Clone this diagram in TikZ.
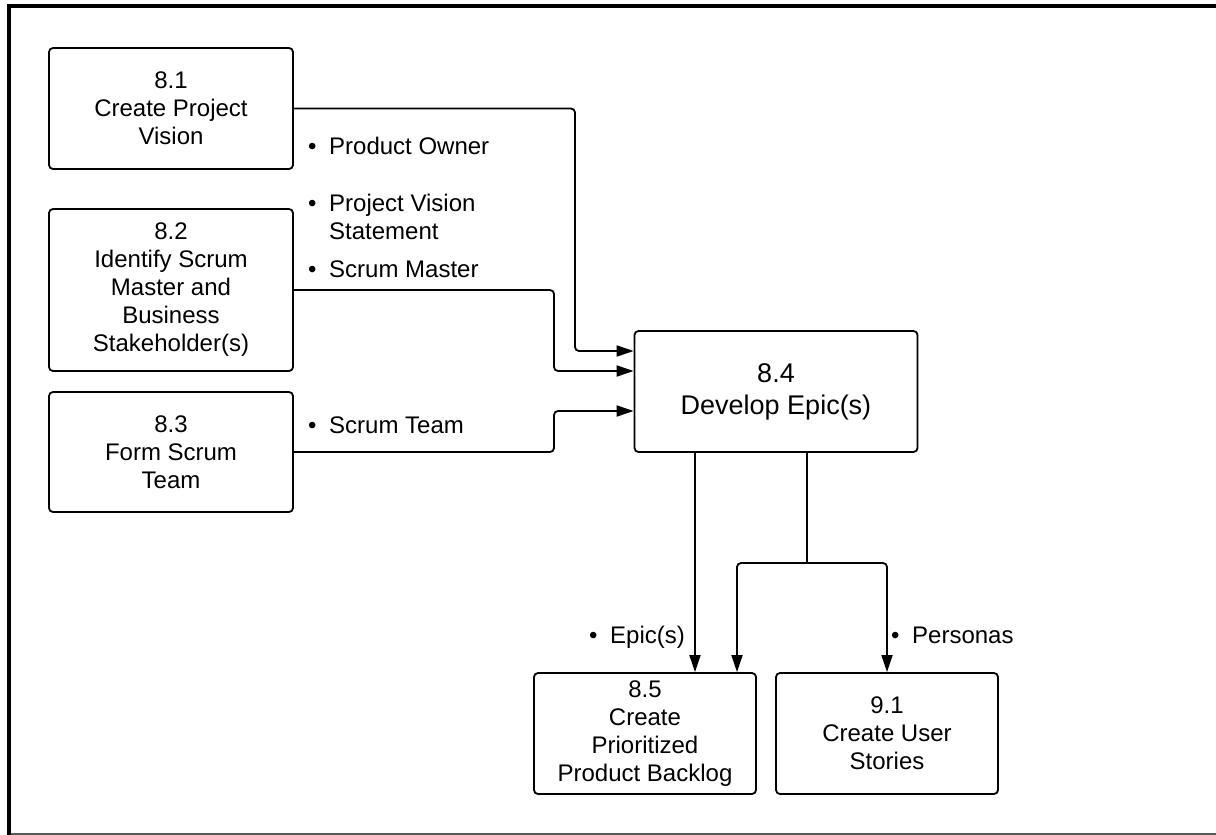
\documentclass[tikz,border=0pt]{standalone}
\usepackage{fontspec}
\setmainfont{Liberation Sans}
\usetikzlibrary{arrows.meta}

\newcommand{\lblbullet}{\makebox[21pt][l]{•}}

\begin{document}
\begin{tikzpicture}[x=1pt,y=-1pt,
  box/.style={draw,line width=1.8pt,rounded corners=4pt,minimum width=244pt,minimum height=121pt,inner sep=0pt,align=center,font=\fontsize{24}{28}\selectfont},
  lbl/.style={anchor=base west,inner sep=0pt,align=left,font=\fontsize{24}{28}\selectfont},
  arr/.style={line width=1.8pt,rounded corners=4pt,-{Triangle[length=17pt,width=11pt]}}]

\useasboundingbox (0,0) rectangle (1216,835);

% frame
\draw[line width=4pt] (9,835) -- (9,6) -- (1216,6);
\draw[gray!70!black,line width=1.5pt] (11,834) -- (1216,834);

% processes
\node[box] (b81) at (171,108.5) {8.1\\Create Project\\Vision};
\node[box,minimum height=162pt] (b82) at (171,290) {8.2\\Identify Scrum\\Master and\\Business\\Stakeholder(s)};
\node[box,minimum height=120pt] (b83) at (171,452) {8.3\\Form Scrum\\Team};
\node[box,minimum width=283pt,font=\fontsize{27}{32}\selectfont] (b84) at (776,391.5) {8.4\\Develop Epic(s)};
\node[box,minimum width=222pt] (b85) at (645,733.5) {8.5\\Create\\Prioritized\\Product Backlog};
\node[box,minimum width=222pt] (b91) at (887,733.5) {9.1\\Create User\\Stories};

% inputs
\coordinate (k1) at (575,351);
\coordinate (k2) at (554,371);
\coordinate (k3) at (554,411);
\draw[arr] (b81.east) -| (k1) -- (k1 -| b84.west);
\draw[arr] (b82.east) -| (k2) -- (k2 -| b84.west);
\draw[arr] (b83.east) -| (k3) -- (k3 -| b84.west);

\node[lbl] (lpo) at (308,154) {\lblbullet Product Owner};
\node[lbl] (lpv) at (308,239) {\lblbullet Project Vision\\\hspace*{21pt}Statement};
\node[lbl] (lsm) at (308,277) {\lblbullet Scrum Master};
\node[lbl] (lst) at (308,433) {\lblbullet Scrum Team};

% outputs
\coordinate (k4) at (695,0);
\coordinate (k5) at (807,563);
\coordinate (k6) at (737,563);
\draw[arr] (k4 |- b84.south) -- (k4 |- b85.north);
\draw[line width=1.8pt] (k5 |- b84.south) -- (k5);
\draw[arr] (k5) -- (k6) -- (k6 |- b85.north);
\draw[arr] (k5) -| (b91.north);

\node[lbl] (lep) at (589,643) {\lblbullet Epic(s)};
\node[lbl] (lpe) at (891,643) {\lblbullet Personas};

\end{tikzpicture}
\end{document}
